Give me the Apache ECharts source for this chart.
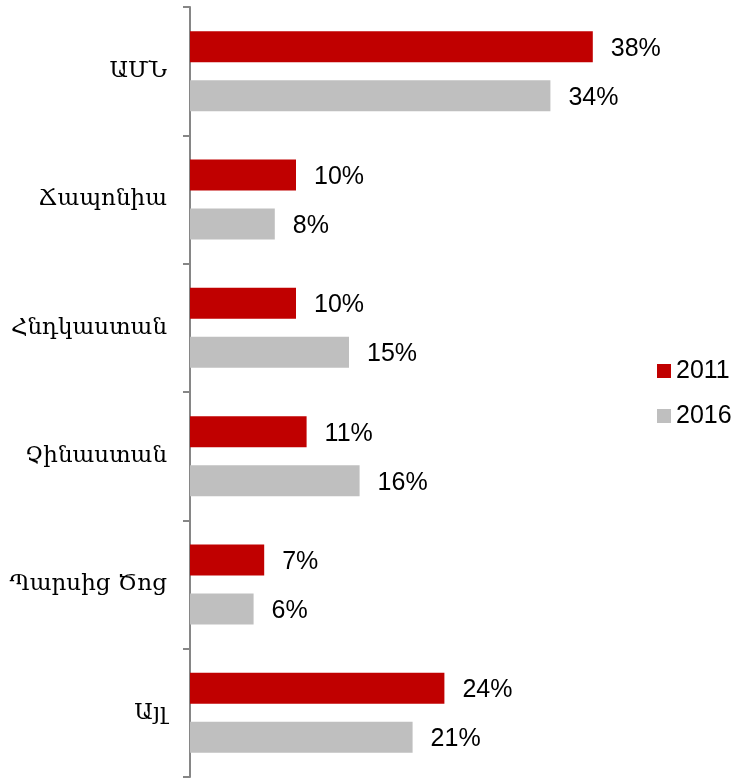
<!DOCTYPE html>
<html>
<head>
<meta charset="utf-8">
<script src="https://cdn.jsdelivr.net/npm/echarts@6/dist/echarts.min.js"></script>
<style>
  html, body { margin: 0; padding: 0; background: #fff; }
  #chart { width: 738px; height: 780px; }
</style>
</head>
<body>
<div id="chart"></div>
<script>
const categories = ["ԱՄՆ", "Ճապոնիա", "Հնդկաստան", "Չինաստան", "Պարսից Ծոց", "Այլ"];
const seriesNames = ["2011", "2016"];
const values2011 = [38, 10, 10, 11, 7, 24];
const values2016 = [34, 8, 15, 16, 6, 21];
const colors = ["#C00000", "#BFBFBF"];

const chart = echarts.init(document.getElementById("chart"));

const labelStyle = {
    show: true,
    position: "right",
    distance: 18,
    offset: [0, 2],
    color: "#000",
    fontFamily: "Liberation Sans, Arial, sans-serif",
    fontSize: 25,
    formatter: p => p.value + "%"
};

chart.setOption({
    animation: false,
    grid: { left: 190, right: 18, top: 7, bottom: 3 },
    legend: {
        orient: "vertical",
        left: 657,
        top: 358,
        padding: 0,
        itemWidth: 14,
        itemHeight: 14,
        itemGap: 19,
        icon: "rect",
        textStyle: {
            color: "#000",
            fontFamily: "Liberation Sans, Arial, sans-serif",
            fontSize: 25,
            lineHeight: 26,
            padding: [0, 0, 0, 0]
        },
        data: seriesNames
    },
    xAxis: {
        type: "value",
        min: 0,
        max: 50,
        show: false
    },
    yAxis: {
        type: "category",
        inverse: true,
        data: categories,
        axisLine: { show: true, lineStyle: { color: "#868686", width: 2 } },
        axisTick: { show: true, length: 7, lineStyle: { color: "#868686", width: 2 } },
        axisLabel: {
            color: "#000",
            fontFamily: "DejaVu Serif, serif",
            fontSize: 23,
            margin: 23
        }
    },
    series: [
        {
            name: seriesNames[0],
            type: "bar",
            data: values2011,
            barWidth: 31,
            barGap: "58%",
            itemStyle: { color: colors[0] },
            label: labelStyle
        },
        {
            name: seriesNames[1],
            type: "bar",
            data: values2016,
            barWidth: 31,
            barGap: "58%",
            itemStyle: { color: colors[1] },
            label: labelStyle
        }
    ]
});
</script>
</body>
</html>
